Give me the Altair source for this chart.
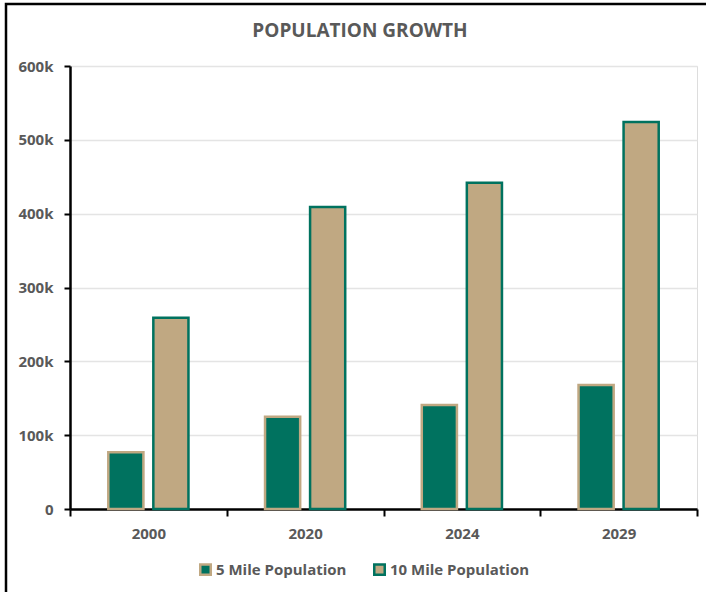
import altair as alt
import pandas as pd

years = ["2000", "2020", "2024", "2029"]
series = ["5 Mile Population", "10 Mile Population"]
five_mile = [77000, 125000, 141000, 168000]
ten_mile = [259000, 409000, 442000, 524000]
y_ticks = [0, 100000, 200000, 300000, 400000, 500000, 600000]
title_text = ["POPULATION GROWTH"]

rows = []
for i, yr in enumerate(years):
    rows.append({"Year": yr, "Series": series[0], "Population": five_mile[i]})
    rows.append({"Year": yr, "Series": series[1], "Population": ten_mile[i]})
df = pd.DataFrame(rows)

GREEN = "#00725F"
TAN = "#C0A882"
TEXT = "#595959"
FONT = "Open Sans"

legend_cfg = dict(
    title=None, orient="none", direction="horizontal", legendX=128, legendY=496,
    symbolType="square", symbolSize=110, symbolStrokeWidth=2.5,
    labelFont=FONT, labelFontSize=15, labelFontWeight="bold", labelColor=TEXT,
    columnPadding=22, labelOffset=3,
)

bars = alt.Chart(df).mark_bar(strokeWidth=2.5).encode(
    x=alt.X("Year:N", sort=years,
            scale=alt.Scale(paddingInner=0, paddingOuter=0),
            axis=alt.Axis(title=None, labelAngle=0, labelFont=FONT, labelFontSize=15,
                          labelFontWeight="bold", labelColor=TEXT, labelPadding=10,
                          domainColor="black", domainWidth=2.5, tickColor="black",
                          tickWidth=2, tickSize=7, tickBand="extent", grid=False)),
    xOffset=alt.XOffset("Series:N", sort=series,
                        scale=alt.Scale(domain=series, paddingInner=0.22, paddingOuter=0.85)),
    y=alt.Y("Population:Q",
            scale=alt.Scale(domain=[0, 600000], nice=False),
            axis=alt.Axis(title=None, values=y_ticks,
                          labelExpr="datum.value == 0 ? '0' : format(datum.value / 1000, 'd') + 'k'",
                          labelFont=FONT, labelFontSize=15, labelFontWeight="bold",
                          labelColor=TEXT, labelPadding=11, domainColor="black",
                          domainWidth=2.5, tickColor="black", tickWidth=2, tickSize=6,
                          gridColor="#E4E4E4", gridWidth=1.5)),
    fill=alt.Fill("Series:N", sort=series,
                  scale=alt.Scale(domain=series, range=[GREEN, TAN]),
                  legend=alt.Legend(**legend_cfg)),
    stroke=alt.Stroke("Series:N", sort=series,
                      scale=alt.Scale(domain=series, range=[TAN, GREEN]),
                      legend=alt.Legend(**legend_cfg)),
)

title = alt.Chart(pd.DataFrame({"t": title_text})).mark_text(
    font=FONT, fontSize=19, fontWeight="bold", color=TEXT, align="center", baseline="middle"
).encode(
    text="t:N", x=alt.value(290), y=alt.value(-35)
)

frame = alt.Chart(pd.DataFrame({"f": [0]})).mark_rect(
    fillOpacity=0, stroke="black", strokeWidth=2.5
).encode(
    x=alt.value(-64), x2=alt.value(645), y=alt.value(-62), y2=alt.value(540)
)

chart = alt.layer(bars, title, frame).properties(
    width=627, height=443,
    autosize="none",
    padding={"left": 70, "top": 66, "right": 9, "bottom": 83},
).configure_view(stroke=None).configure(background="white")

chart.save("out.html", embed_options={"renderer": "svg", "actions": False})
